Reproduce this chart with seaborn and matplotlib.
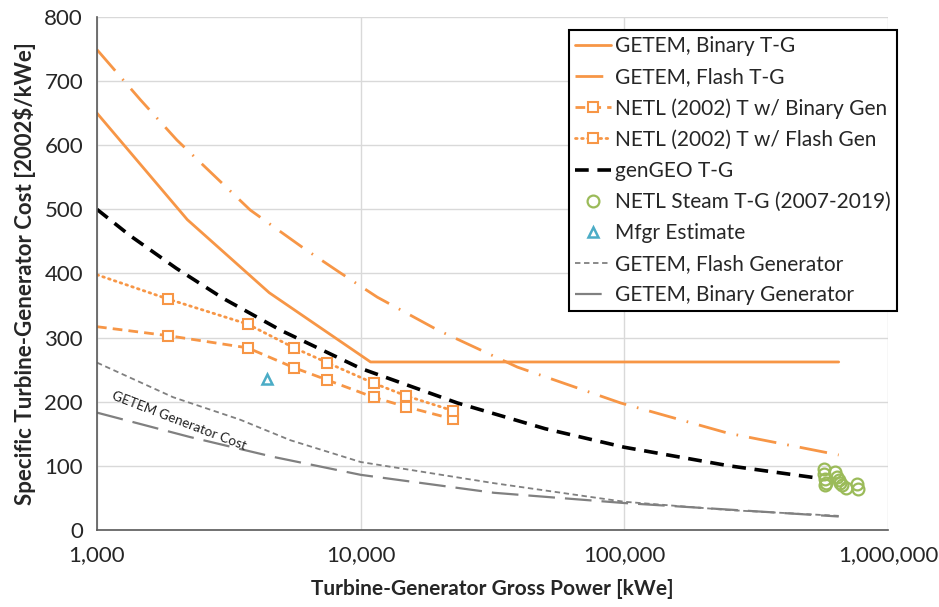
import matplotlib
matplotlib.use("Agg")
import matplotlib.pyplot as plt
from matplotlib.ticker import FuncFormatter, MultipleLocator, LogLocator, NullFormatter
import seaborn as sns

# ---- data (gross power in kWe, specific cost in 2002$/kWe) ----
getem_binary_kw = [1000, 2200, 4500, 10900, 650000]
getem_binary_cost = [650, 484, 370, 262, 262]

getem_flash_kw = [1000, 1460, 2010, 3810, 6050, 8370, 11570, 19550, 39300, 96900, 247000, 650000]
getem_flash_cost = [749, 671, 608, 499, 440, 401, 363, 312, 254, 198, 151, 117]

# NETL (2002) turbine sizes: 2,500 - 30,000 hp, first point is the line start at 1,000 kWe
netl_kw = [1000, 1864, 3729, 5593, 7457, 11186, 14914, 22371]
netl_binary_gen_cost = [317, 303, 284, 253, 234, 207, 192, 173]
netl_flash_gen_cost = [398, 360, 321, 284, 261, 229, 209, 186]

gengeo_kw = [1000, 1335, 2000, 3015, 5000, 10000, 23300, 50000, 100000, 250000, 540000]
gengeo_cost = [500, 459, 408, 361, 311, 252, 198, 158, 129, 100, 81]

netl_steam_kw = [570000, 570000, 575000, 580000, 575000, 630000, 640000, 650000,
                 660000, 670000, 690000, 760000, 770000]
netl_steam_cost = [95, 88, 80, 74, 70, 90, 82, 78, 74, 70, 66, 72, 64]

mfgr_kw = [4420]
mfgr_cost = [236]

flash_gen_kw = [1000, 1945, 3490, 5410, 10000, 32000, 100000, 250000, 650000]
flash_gen_cost = [261, 207, 172, 140, 106, 73, 44, 31, 22]

binary_gen_kw = [1000, 2250, 4660, 10000, 32000, 100000, 650000]
binary_gen_cost = [183, 145, 114, 86, 58, 42, 21]

x_ticks = [1000, 10000, 100000, 1000000]
y_ticks = [0, 100, 200, 300, 400, 500, 600, 700, 800]

# ---- style ----
sns.set_style("white")
plt.rcParams["font.family"] = ["Lato", "DejaVu Sans"]

ORANGE = "#F79646"
GREEN = "#9BBB59"
BLUE = "#4BACC6"
GREY = "#808080"

fig = plt.figure(figsize=(9.39, 6.07), dpi=100)
ax = fig.add_axes([0.1033, 0.1269, 0.8424, 0.8451])

common = dict(ax=ax, estimator=None, sort=False)

sns.lineplot(x=getem_binary_kw, y=getem_binary_cost, color=ORANGE, linewidth=2.0,
             label="GETEM, Binary T-G", **common)
sns.lineplot(x=getem_flash_kw, y=getem_flash_cost, color=ORANGE, linewidth=2.0,
             linestyle=(0, (10, 4, 0.6, 4)), label="GETEM, Flash T-G", **common)
sns.lineplot(x=netl_kw, y=netl_binary_gen_cost, color=ORANGE, linewidth=2.0,
             linestyle=(0, (3.5, 2.2)), marker="s", markersize=7,
             markerfacecolor="white", markeredgecolor=ORANGE, markeredgewidth=1.5,
             markevery=slice(1, None), label="NETL (2002) T w/ Binary Gen", **common)
sns.lineplot(x=netl_kw, y=netl_flash_gen_cost, color=ORANGE, linewidth=2.0,
             linestyle=(0, (0.6, 1.6)), dash_capstyle="round", marker="s", markersize=7,
             markerfacecolor="white", markeredgecolor=ORANGE, markeredgewidth=1.5,
             markevery=slice(1, None), label="NETL (2002) T w/ Flash Gen", **common)
sns.lineplot(x=gengeo_kw, y=gengeo_cost, color="black", linewidth=2.6,
             linestyle=(0, (3.8, 2.4)), label="genGEO T-G", **common)
sns.lineplot(x=netl_steam_kw, y=netl_steam_cost, color=GREEN, linestyle="",
             marker="o", markersize=8.5, markerfacecolor="none",
             markeredgecolor=GREEN, markeredgewidth=1.6,
             label="NETL Steam T-G (2007-2019)", **common)
sns.lineplot(x=mfgr_kw, y=mfgr_cost, color=BLUE, linestyle="",
             marker="^", markersize=7, markerfacecolor="none",
             markeredgecolor=BLUE, markeredgewidth=1.8,
             label="Mfgr Estimate", **common)
sns.lineplot(x=flash_gen_kw, y=flash_gen_cost, color=GREY, linewidth=1.3,
             linestyle=(0, (3, 2)), label="GETEM, Flash Generator", **common)
sns.lineplot(x=binary_gen_kw, y=binary_gen_cost, color=GREY, linewidth=1.6,
             linestyle=(0, (12, 4.5)), label="GETEM, Binary Generator", **common)

ax.text(1135, 204, "GETEM Generator Cost", rotation=-21, rotation_mode="anchor",
        ha="left", va="baseline", fontsize=9.8, color="#222222")

# ---- axes ----
ax.set_xscale("log")
ax.set_xlim(1000, 1000000)
ax.set_ylim(0, 800)
ax.set_xticks(x_ticks)
ax.xaxis.set_major_formatter(FuncFormatter(lambda v, p: f"{int(round(v)):,}"))
ax.xaxis.set_minor_locator(LogLocator(base=10, subs=range(2, 10)))
ax.xaxis.set_minor_formatter(NullFormatter())
ax.set_yticks(y_ticks)
ax.yaxis.set_minor_locator(MultipleLocator(20))

ax.grid(True, which="major", color="#D9D9D9", linewidth=1.0)
ax.set_axisbelow(True)
for side in ("top", "right"):
    ax.spines[side].set_visible(False)
for side in ("left", "bottom"):
    ax.spines[side].set_color("#595959")
    ax.spines[side].set_linewidth(1.2)

ax.tick_params(axis="x", which="major", direction="inout", length=10, width=1.1,
               color="#595959", labelsize=16, pad=6)
ax.tick_params(axis="x", which="minor", direction="in", length=5, width=1.0,
               color="#595959")
ax.tick_params(axis="y", which="major", direction="out", length=6, width=1.1,
               color="#595959", labelsize=16, pad=4)
ax.tick_params(axis="y", which="minor", direction="in", length=4, width=1.0,
               color="#595959")

ax.set_xlabel("Turbine-Generator Gross Power [kWe]", fontsize=15, fontweight="bold",
              labelpad=10)
ax.set_ylabel("Specific Turbine-Generator Cost [2002$/kWe]", fontsize=16,
              fontweight="bold", labelpad=6)

handles, labels = ax.get_legend_handles_labels()
leg = ax.legend(handles, labels, loc="upper right", bbox_to_anchor=(1.011, 0.975),
                borderaxespad=0, fontsize=15, frameon=True, fancybox=False,
                handlelength=1.7, handletextpad=0.2, labelspacing=0.53,
                borderpad=0.3)
leg.get_frame().set_edgecolor("black")
leg.get_frame().set_linewidth(1.5)
leg.get_frame().set_alpha(1)

fig.savefig("out.png", dpi=100)
